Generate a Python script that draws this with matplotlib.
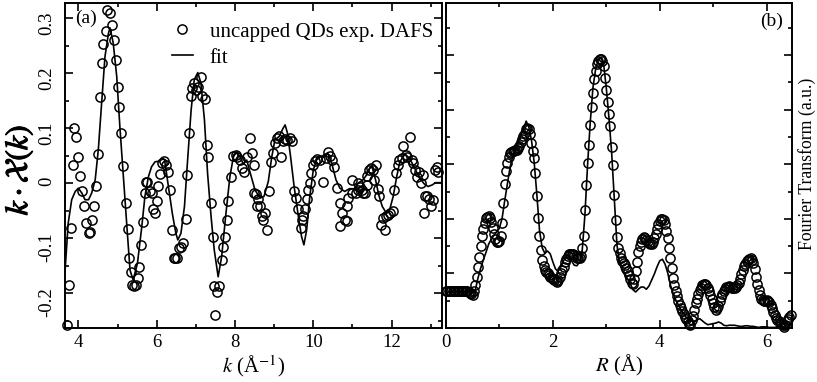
import numpy as np
import matplotlib
matplotlib.use("Agg")
import matplotlib.pyplot as plt
from matplotlib.ticker import MultipleLocator, FuncFormatter
import matplotlib.patheffects as pe

plt.rcParams['font.family'] = ['Liberation Serif', 'DejaVu Serif']
plt.rcParams['mathtext.fontset'] = 'stix'
plt.rcParams['axes.unicode_minus'] = False

# ---- panel (a): k-space DAFS oscillations ----
k_exp = [3.70, 3.77, 3.81, 3.86, 3.90, 3.94, 4.00, 4.04, 4.10, 4.15, 4.20, 4.26, 4.30, 4.36,
         4.40, 4.45, 4.51, 4.55, 4.60, 4.64, 4.70, 4.74, 4.81, 4.85, 4.91, 4.96, 5.00, 5.05,
         5.09, 5.13, 5.21, 5.26, 5.29, 5.34, 5.38, 5.43, 5.47, 5.52, 5.55, 5.59, 5.64, 5.69,
         5.73, 5.76, 5.83, 5.87, 5.91, 5.96, 6.00, 6.04, 6.08, 6.14, 6.20, 6.24, 6.30, 6.34,
         6.38, 6.43, 6.47, 6.51, 6.57, 6.62, 6.68, 6.74, 6.78, 6.83, 6.87, 6.91, 6.95, 7.00,
         7.06, 7.12, 7.17, 7.23, 7.28, 7.32, 7.38, 7.43, 7.47, 7.50, 7.53, 7.59, 7.66, 7.70,
         7.75, 7.79, 7.83, 7.90, 7.96, 8.02, 8.06, 8.13, 8.19, 8.24, 8.30, 8.38, 8.43, 8.49,
         8.49, 8.54, 8.57, 8.60, 8.64, 8.68, 8.71, 8.77, 8.81, 8.88, 8.91, 8.96, 9.02, 9.08,
         9.13, 9.17, 9.22, 9.28, 9.34, 9.40, 9.45, 9.51, 9.55, 9.62, 9.68, 9.70, 9.74, 9.79,
         9.83, 9.87, 9.91, 9.95, 10.00, 10.04, 10.10, 10.17, 10.26, 10.33, 10.38, 10.43,
         10.47, 10.53, 10.61, 10.68, 10.69, 10.72, 10.80, 10.85, 10.87, 10.89, 10.98, 11.00,
         11.08, 11.15, 11.15, 11.20, 11.24, 11.28, 11.32, 11.36, 11.38, 11.42, 11.47, 11.52,
         11.54, 11.59, 11.64, 11.68, 11.72, 11.79, 11.83, 11.85, 11.90, 11.97, 12.03, 12.06,
         12.11, 12.15, 12.20, 12.26, 12.30, 12.36, 12.40, 12.47, 12.51, 12.55, 12.60, 12.66,
         12.70, 12.75, 12.79, 12.82, 12.85, 12.91, 12.96, 13.00, 13.06, 13.10, 13.15, 13.19]
chi_exp = [-0.258, -0.185, -0.081, 0.033, 0.101, 0.084, 0.048, 0.013, -0.014, -0.041, -0.072,
           -0.091, -0.089, -0.067, -0.041, -0.005, 0.053, 0.157, 0.219, 0.253, 0.277, 0.314,
           0.310, 0.287, 0.261, 0.224, 0.174, 0.139, 0.091, 0.031, -0.036, -0.084, -0.136,
           -0.161, -0.185, -0.187, -0.185, -0.173, -0.152, -0.112, -0.070, -0.018, 0.003, 0.003,
           -0.015, -0.018, -0.047, -0.055, -0.033, -0.005, 0.017, 0.036, 0.041, 0.033, 0.021,
           -0.012, -0.085, -0.136, -0.136, -0.136, -0.118, -0.115, -0.109, -0.065, 0.015, 0.092,
           0.159, 0.173, 0.182, 0.170, 0.175, 0.193, 0.159, 0.153, 0.070, 0.048, -0.036, -0.097,
           -0.187, -0.240, -0.197, -0.187, -0.139, -0.115, -0.097, -0.067, -0.033, 0.012, 0.050,
           0.051, 0.048, 0.042, 0.027, 0.021, 0.048, 0.082, 0.055, 0.033, -0.018, -0.019, -0.042,
           -0.029, -0.042, -0.059, -0.067, -0.055, -0.085, -0.015, 0.039, 0.055, 0.073, 0.082,
           0.085, 0.048, 0.076, 0.080, 0.079, 0.082, 0.076, -0.015, -0.027, -0.047, -0.082,
           -0.067, -0.059, -0.047, -0.029, -0.012, 0.001, 0.018, 0.033, 0.041, 0.044, 0.042,
           0.003, 0.045, 0.056, 0.050, 0.042, 0.030, -0.009, -0.036, -0.078, -0.055, -0.067,
           -0.042, -0.069, -0.027, 0.006, -0.018, -0.017, -0.013, 0.000, -0.007, -0.012, -0.017,
           -0.017, -0.003, 0.013, 0.024, 0.027, 0.024, 0.006, 0.033, -0.011, -0.024, -0.076,
           -0.064, -0.085, -0.059, -0.058, -0.055, -0.050, -0.012, 0.018, 0.033, 0.042, 0.045,
           0.068, 0.051, 0.048, 0.084, 0.042, 0.036, 0.024, 0.012, 0.021, 0.000, 0.015, -0.055,
           -0.024, -0.023, -0.029, -0.042, -0.030, 0.024, 0.030, 0.021]

k_fit = [3.66, 3.74, 3.83, 3.92, 4.00, 4.09, 4.17, 4.26, 4.34, 4.43, 4.51, 4.60, 4.68, 4.77,
         4.81, 4.89, 4.98, 5.06, 5.15, 5.24, 5.32, 5.40, 5.51, 5.62, 5.70, 5.79, 5.87, 5.96,
         6.07, 6.15, 6.20, 6.30, 6.40, 6.49, 6.54, 6.62, 6.71, 6.79, 6.88, 6.96, 7.05, 7.13,
         7.22, 7.30, 7.39, 7.47, 7.57, 7.66, 7.76, 7.87, 7.96, 8.04, 8.13, 8.21, 8.30, 8.38,
         8.51, 8.64, 8.74, 8.85, 8.94, 9.02, 9.13, 9.23, 9.28, 9.34, 9.42, 9.51, 9.62, 9.70,
         9.76, 9.83, 9.91, 10.00, 10.08, 10.18, 10.27, 10.36, 10.47, 10.58, 10.68, 10.80,
         10.92, 11.05, 11.14, 11.27, 11.36, 11.44, 11.50, 11.59, 11.67, 11.76, 11.87, 11.95,
         12.04, 12.13, 12.21, 12.34, 12.46, 12.59, 12.72, 12.83, 12.93, 13.04, 13.12, 13.28]
chi_fit = [-0.160, -0.073, -0.030, -0.015, -0.009, -0.018, -0.030, -0.030, -0.018, 0.006,
           0.061, 0.151, 0.230, 0.273, 0.282, 0.255, 0.194, 0.103, 0.012, -0.079, -0.158,
           -0.176, -0.145, -0.079, -0.024, 0.012, 0.030, 0.039, 0.040, 0.044, 0.043, -0.006,
           -0.055, -0.091, -0.103, -0.091, -0.042, 0.042, 0.133, 0.188, 0.201, 0.182, 0.115,
           0.018, -0.061, -0.121, -0.170, -0.133, -0.061, 0.012, 0.048, 0.057, 0.048, 0.035,
           0.042, 0.021, -0.012, -0.027, -0.024, 0.003, 0.048, 0.079, 0.085, 0.100, 0.106,
           0.091, 0.048, -0.006, -0.061, -0.097, -0.112, -0.085, -0.024, 0.024, 0.042, 0.048,
           0.048, 0.055, 0.036, 0.006, -0.009, -0.015, -0.010, -0.010, 0.000, 0.006, 0.015,
           0.027, 0.030, 0.006, -0.021, -0.042, -0.055, -0.048, -0.024, 0.012, 0.039, 0.053,
           0.045, 0.027, 0.009, -0.001, -0.006, -0.003, 0.001, 0.001]

# ---- panel (b): Fourier transform magnitude (a.u.) ----
r_step = 0.025
ft_exp = [0.68, 0.67, 0.68, 0.67, 0.67, 0.68, 0.67, 0.67, 0.68, 0.67, 0.67, 0.68, 0.67, 0.67,
          0.67, 0.68, 0.67, 0.66, 0.65, 0.62, 0.61, 0.68, 0.79, 0.93, 1.12, 1.30, 1.50, 1.68,
          1.81, 1.92, 2.01, 2.04, 2.05, 2.01, 1.94, 1.83, 1.72, 1.63, 1.58, 1.57, 1.59, 1.68,
          1.92, 2.29, 2.64, 2.88, 3.02, 3.13, 3.20, 3.23, 3.24, 3.25, 3.26, 3.27, 3.30, 3.34,
          3.41, 3.46, 3.52, 3.57, 3.64, 3.67, 3.64, 3.55, 3.39, 3.24, 3.11, 2.84, 2.42, 2.01,
          1.68, 1.43, 1.25, 1.13, 1.07, 1.03, 1.00, 0.97, 0.93, 0.91, 0.89, 0.88, 0.86, 0.85,
          0.88, 0.93, 1.00, 1.06, 1.12, 1.20, 1.26, 1.31, 1.35, 1.36, 1.36, 1.35, 1.33, 1.31,
          1.29, 1.28, 1.28, 1.31, 1.46, 1.68, 2.16, 2.62, 3.02, 3.35, 3.72, 4.05, 4.30, 4.56,
          4.71, 4.83, 4.89, 4.92, 4.92, 4.89, 4.80, 4.58, 4.36, 4.14, 3.92, 3.70, 3.32, 2.99,
          2.44, 1.98, 1.67, 1.47, 1.37, 1.28, 1.23, 1.19, 1.15, 1.10, 1.04, 0.97, 0.90, 0.82,
          0.81, 0.90, 1.04, 1.21, 1.39, 1.50, 1.58, 1.63, 1.66, 1.65, 1.62, 1.59, 1.56, 1.53,
          1.54, 1.58, 1.65, 1.73, 1.82, 1.90, 1.96, 1.99, 1.99, 1.97, 1.90, 1.78, 1.65, 1.47,
          1.28, 1.10, 0.92, 0.79, 0.68, 0.59, 0.49, 0.42, 0.37, 0.31, 0.26, 0.21, 0.17, 0.13,
          0.08, 0.06, 0.14, 0.22, 0.33, 0.45, 0.54, 0.63, 0.70, 0.73, 0.78, 0.80, 0.81, 0.78,
          0.74, 0.68, 0.60, 0.53, 0.46, 0.38, 0.33, 0.36, 0.41, 0.49, 0.56, 0.62, 0.68, 0.72,
          0.75, 0.76, 0.77, 0.75, 0.73, 0.73, 0.74, 0.76, 0.79, 0.83, 0.90, 0.98, 1.06, 1.13,
          1.18, 1.22, 1.25, 1.27, 1.28, 1.25, 1.19, 1.08, 0.94, 0.81, 0.70, 0.60, 0.54, 0.51,
          0.50, 0.50, 0.51, 0.50, 0.48, 0.43, 0.37, 0.30, 0.24, 0.18, 0.15, 0.12, 0.10, 0.07,
          0.05, 0.02, 0.06, 0.12, 0.17, 0.21, 0.24]
r_exp = np.arange(len(ft_exp)) * r_step

r_fit = [0.00, 0.05, 0.10, 0.15, 0.20, 0.25, 0.30, 0.35, 0.40, 0.45, 0.50, 0.55, 0.60, 0.65,
         0.70, 0.75, 0.80, 0.85, 0.90, 0.95, 1.00, 1.05, 1.10, 1.15, 1.20, 1.25, 1.30, 1.35,
         1.40, 1.45, 1.50, 1.55, 1.60, 1.65, 1.70, 1.75, 1.80, 1.85, 1.90, 1.95, 2.00, 2.05,
         2.10, 2.15, 2.20, 2.25, 2.30, 2.35, 2.40, 2.45, 2.50, 2.55, 2.60, 2.65, 2.70, 2.75,
         2.80, 2.85, 2.90, 2.95, 3.00, 3.05, 3.10, 3.15, 3.20, 3.25, 3.30, 3.35, 3.40, 3.45,
         3.50, 3.55, 3.60, 3.65, 3.70, 3.75, 3.80, 3.85, 3.90, 3.95, 4.00, 4.05, 4.10, 4.15,
         4.20, 4.25, 4.30, 4.35, 4.40, 4.45, 4.50, 4.55, 4.60, 4.65, 4.70, 4.75, 4.80, 4.85,
         4.90, 4.95, 5.00, 5.05, 5.10, 5.15, 5.20, 5.25, 5.30, 5.35, 5.40, 5.45, 5.50, 5.55,
         5.60, 5.65, 5.70, 5.75, 5.80, 5.85, 5.90, 5.95, 6.00, 6.05, 6.10, 6.15, 6.20, 6.25,
         6.30, 6.35, 6.40, 6.45]
ft_fit = [0.66, 0.66, 0.66, 0.66, 0.66, 0.66, 0.66, 0.66, 0.66, 0.66, 0.64, 0.70, 0.92, 1.10,
          1.25, 1.39, 1.54, 1.63, 1.70, 1.76, 1.83, 2.01, 2.34, 2.64, 2.95, 3.15, 3.28, 3.39,
          3.52, 3.64, 3.79, 3.68, 3.44, 3.04, 2.45, 1.79, 1.47, 1.37, 1.41, 1.36, 1.21, 1.08,
          1.04, 1.12, 1.23, 1.32, 1.32, 1.23, 1.15, 1.14, 1.21, 1.43, 2.07, 2.99, 3.77, 4.40,
          4.74, 4.91, 4.95, 4.84, 4.40, 3.85, 3.22, 2.38, 1.52, 1.19, 1.04, 0.97, 0.90, 0.81,
          0.70, 0.66, 0.71, 0.75, 0.75, 0.71, 0.77, 0.88, 0.99, 1.12, 1.23, 1.26, 1.17, 1.01,
          0.79, 0.64, 0.51, 0.42, 0.33, 0.26, 0.18, 0.15, 0.13, 0.11, 0.15, 0.17, 0.13, 0.09,
          0.06, 0.07, 0.08, 0.09, 0.11, 0.09, 0.05, 0.04, 0.05, 0.05, 0.05, 0.04, 0.03, 0.03,
          0.04, 0.04, 0.03, 0.03, 0.02, 0.01, 0.02, 0.02, 0.02, 0.01, 0.01, 0.01, 0.02, 0.02,
          0.02, 0.01, 0.00, 0.00]

fig = plt.figure(figsize=(8.17, 3.82), dpi=100)
ax1 = fig.add_axes([0.0796, 0.1414, 0.4611, 0.8516])
ax2 = fig.add_axes([0.5459, 0.1414, 0.4231, 0.8516])

mk = dict(marker='o', ms=6.6, mfc='none', mec='black', mew=1.1, ls='none')

ax1.plot(k_exp, chi_exp, label='uncapped QDs exp. DAFS', clip_on=False, **mk)
ax1.plot(k_fit, chi_fit, color='black', lw=1.2, label='fit')
ax1.set_xlim(3.66, 13.28)
ax1.set_ylim(-0.263, 0.328)
ax1.xaxis.set_major_locator(MultipleLocator(2))
ax1.xaxis.set_minor_locator(MultipleLocator(1))
ax1.yaxis.set_major_locator(MultipleLocator(0.1))
ax1.yaxis.set_minor_locator(MultipleLocator(0.05))
ax1.yaxis.set_major_formatter(FuncFormatter(lambda v, p: '0' if abs(v) < 1e-9 else '%.1f' % v))
ax1.set_xlabel(r'$k$ (Å$^{-1}$)', fontsize=15, labelpad=2)
ax1.tick_params(axis='y', labelrotation=90)
ax1.legend(loc='upper right', bbox_to_anchor=(1.015, 0.985), frameon=False, fontsize=15,
           handlelength=1.0, handletextpad=0.8, labelspacing=0.3, numpoints=1, borderaxespad=0.3)
ax1.text(0.027, 0.978, '(a)', transform=ax1.transAxes, ha='left', va='top', fontsize=14)

ax2.plot(r_exp, ft_exp, clip_on=False, **mk)
ax2.plot(r_fit, ft_fit, color='black', lw=1.2)
ax2.set_xlim(0, 6.47)
ax2.set_ylim(0, 5.96)
ax2.xaxis.set_major_locator(MultipleLocator(2))
ax2.xaxis.set_minor_locator(MultipleLocator(1))
ax2.yaxis.set_major_locator(MultipleLocator(1))
ax2.yaxis.set_minor_locator(MultipleLocator(0.5))
ax2.set_xlabel(r'$R$ (Å)', fontsize=15, labelpad=2)
ax2.text(0.976, 0.968, '(b)', transform=ax2.transAxes, ha='right', va='top', fontsize=14)
fig.text(0.988, 0.571, 'Fourier Transform (a.u.)', rotation=90, ha='center', va='center',
         fontsize=12.8)

for ax in (ax1, ax2):
    for s in ax.spines.values():
        s.set_linewidth(1.4)
    ax.tick_params(which='both', direction='in', top=True, right=True, width=1.2, labelsize=13.5)
    ax.tick_params(which='major', length=5.5)
    ax.tick_params(which='minor', length=3)
    ax.tick_params(axis='x', pad=4)
ax1.tick_params(axis='y', pad=7)
ax2.tick_params(axis='y', labelleft=False, labelright=False)

t = fig.text(0.023, 0.555, r'$k\cdot\mathcal{X}(k)$', rotation=90, ha='center', va='center',
             fontsize=23)
t.set_path_effects([pe.withStroke(linewidth=0.8, foreground='black')])

fig.savefig('out.png', dpi=100)
